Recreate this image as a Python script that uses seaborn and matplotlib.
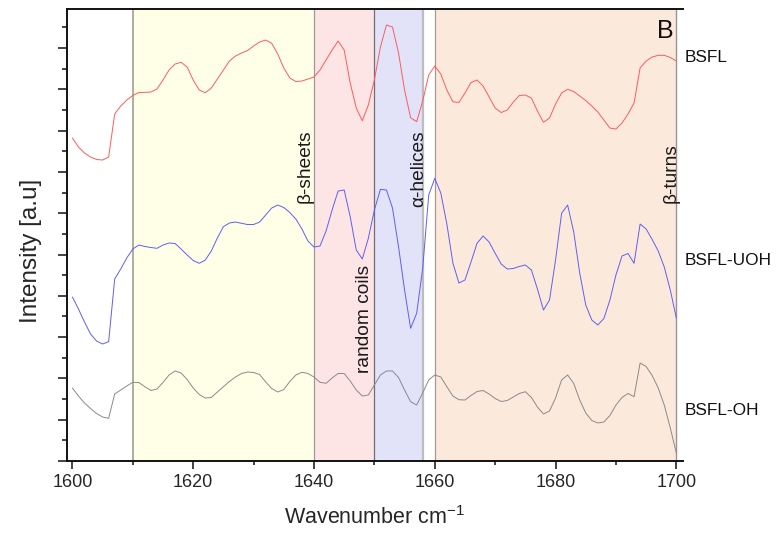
import numpy as np
import pandas as pd
import matplotlib
matplotlib.use("Agg")
import matplotlib.pyplot as plt
from matplotlib.ticker import MultipleLocator
import seaborn as sns

# -----------------------------
# DATA (arbitrary intensity units, already offset)
# -----------------------------
wavenumber = list(range(1600, 1701))

bsfl = [
    323, 314, 308, 304, 301.5, 301, 304, 347, 355, 361,
    365.5, 368.5, 368.7, 369, 372, 381, 391, 397, 398.7, 394,
    381, 371, 368.3, 373, 382, 391, 400, 405, 408, 410.5,
    415, 419, 421, 417.7, 407, 393, 383, 379.5, 380, 382,
    384, 391, 401, 411, 420, 411, 378, 353, 340.3, 356,
    381, 414, 436, 434, 408, 371, 343.3, 339.3, 360, 386,
    395, 387, 371, 359.3, 358.5, 368, 378.5, 381, 375, 364,
    353, 348.5, 351, 359, 365.5, 366, 363, 350, 338.7, 343,
    357, 368, 371.7, 369.5, 365, 360.5, 355, 349, 341, 333,
    332, 338, 347, 358, 393, 400, 404, 405.7, 405.7, 403.5,
    400,
]

bsfl_uoh = [
    164, 152, 139, 127, 120, 117, 119.3, 182, 192, 203,
    212, 216, 214.5, 213.5, 212.7, 216, 218, 217.5, 212, 206,
    200.5, 197.7, 201, 210, 223, 234.3, 238, 239, 237.7, 236.5,
    236.5, 239, 246, 253, 256, 253.5, 248.5, 242, 232, 220,
    214, 215, 230, 251, 270, 271, 244.3, 211, 202, 222.7,
    251, 271.7, 271, 253, 214.3, 171, 132.7, 147.7, 192.7, 266,
    282.7, 268, 237, 198, 178, 181, 199, 217.7, 225, 219,
    207.7, 197, 192, 192.5, 194.5, 196, 191, 172, 151, 161,
    201, 247.7, 256, 229.3, 188, 156, 141, 136, 142.5, 161,
    186, 205, 207.5, 197.7, 237, 232, 221.5, 210, 194, 171,
    143,
]

bsfl_oh = [
    73, 65, 58, 52.5, 47.5, 44, 42.7, 67, 71, 75,
    78.7, 78.5, 74.3, 70.5, 72, 78.5, 86, 90, 88, 81.5,
    73, 66.5, 63, 63.5, 69, 74.3, 79.5, 84, 87.5, 89,
    88.5, 86.5, 79, 72.5, 69, 71.5, 79.5, 86, 88.7, 87.5,
    84, 78.7, 77.7, 83, 87.5, 87.5, 80, 71, 65, 66,
    76, 86, 90, 90, 83.5, 71, 59.3, 56, 68, 81,
    86, 84, 74.3, 65, 61.3, 61, 65.5, 69.5, 70.5, 67,
    62.5, 59.5, 60.5, 64, 67.5, 69.3, 63.5, 54, 47, 50,
    63, 81, 86, 77.7, 61, 48, 40.5, 38, 39, 45.5,
    56, 63.5, 67.5, 64.3, 98, 94.5, 85.5, 73, 56, 33,
    8,
]

sample_names = ["BSFL", "BSFL-UOH", "BSFL-OH"]
sample_colors = ["#ff5b5b", "#5f5ff2", "#8a8a8a"]
sample_label_y = [404, 201, 51]

# secondary structure regions
region_starts = [1610, 1640, 1650, 1660]
region_ends = [1640, 1650, 1658, 1700]
region_colors = ["#ffffe8", "#fde5e5", "#e2e2f8", "#fbeadc"]

boundary_x = [1610, 1640, 1650, 1658, 1660, 1700]
boundary_colors = ["#a8a898", "#9a9a9a", "#707078", "#bdbdbd", "#a89890", "#9a9490"]
boundary_widths = [1.3, 0.9, 0.9, 1.6, 0.9, 1.0]

structure_labels = ["β-sheets", "random coils", "α-helices", "β-turns"]
structure_label_x = [1638.6, 1648.3, 1657.3, 1699.1]
structure_label_y = [258, 88, 254, 258]

# -----------------------------
# LONG-FORM TABLE
# -----------------------------
df = pd.DataFrame({
    "Wavenumber": wavenumber * 3,
    "Intensity": bsfl + bsfl_uoh + bsfl_oh,
    "Sample": [n for n in sample_names for _ in wavenumber],
})

# -----------------------------
# PLOT
# -----------------------------
sns.set_style("ticks")
plt.rcParams["font.family"] = ["Liberation Sans", "DejaVu Sans"]
plt.rcParams["mathtext.fontset"] = "custom"
plt.rcParams["mathtext.rm"] = "Liberation Sans"

fig = plt.figure(figsize=(7.77, 5.34), dpi=100)
ax = fig.add_axes([0.0862, 0.1367, 0.7928, 0.8464])

for x0, x1, c in zip(region_starts, region_ends, region_colors):
    ax.axvspan(x0, x1, color=c, lw=0, zorder=0)
for x, c, w in zip(boundary_x, boundary_colors, boundary_widths):
    ax.axvline(x, color=c, lw=w, zorder=1)

sns.lineplot(
    data=df, x="Wavenumber", y="Intensity", hue="Sample",
    palette=dict(zip(sample_names, sample_colors)),
    linewidth=0.7, legend=False, ax=ax, zorder=3,
)

for txt, x, y in zip(structure_labels, structure_label_x, structure_label_y):
    ax.text(x, y, txt, rotation=90, ha="center", va="bottom",
            fontsize=13.8, color="#1a1a1a", zorder=4)

for name, y in zip(sample_names, sample_label_y):
    ax.annotate(name, xy=(1.002, y), xycoords=("axes fraction", "data"),
                ha="left", va="center", fontsize=12.4, color="#111111",
                annotation_clip=False)

ax.text(0.984, 0.978, "B", transform=ax.transAxes, ha="right", va="top",
        fontsize=18, color="#111111")

ax.set_xlim(1599.1, 1701.1)
ax.set_ylim(0, 452)
ax.xaxis.set_major_locator(MultipleLocator(20))
ax.xaxis.set_minor_locator(MultipleLocator(10))
ax.yaxis.set_major_locator(MultipleLocator(41.3))
ax.yaxis.set_minor_locator(MultipleLocator(20.65))
ax.set_yticklabels([])

ax.tick_params(axis="both", which="both", direction="out", width=1.1,
               color="#111111", labelsize=13)
ax.tick_params(axis="y", which="major", length=6.5)
ax.tick_params(axis="y", which="minor", length=3.6)
ax.tick_params(axis="x", which="major", length=6, pad=3)
ax.tick_params(axis="x", which="minor", length=3)

for side in ["left", "bottom", "top"]:
    ax.spines[side].set_linewidth(1.4)
    ax.spines[side].set_color("#111111")
ax.spines["right"].set_visible(False)

ax.set_xlabel("Wavenumber cm$^{-1}$", fontsize=15.5, labelpad=11)
ax.set_ylabel("Intensity [a.u]", fontsize=17.5)
ax.yaxis.set_label_coords(-0.040, 0.465)

fig.savefig("out.png", dpi=100)
